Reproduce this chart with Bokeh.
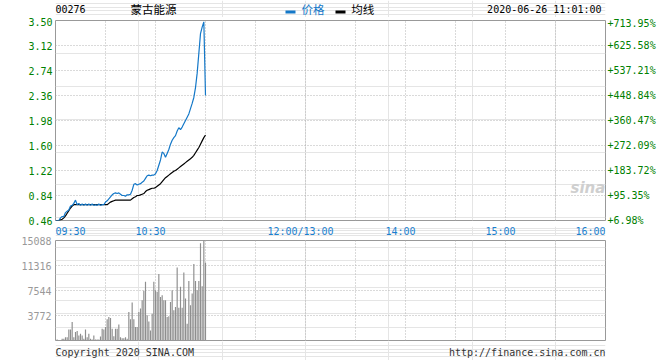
from bokeh.plotting import figure
from bokeh.models import Range1d, FixedTicker, LinearAxis, Grid
from bokeh.layouts import column
from bokeh.core.properties import value
from bokeh.embed import file_html
from bokeh.resources import INLINE

# ---------------- data ----------------
stock_code = "00276"
stock_name = "蒙古能源"
timestamp = "2020-06-26 11:01:00"
legend_price = "价格"
legend_avg = "均线"
copyright_text = "Copyright 2020 SINA.COM"
source_url = "http://finance.sina.com.cn"

# one value per trading minute starting at 09:30
price = [0.46, 0.46, 0.46, 0.50, 0.52, 0.52, 0.58, 0.60, 0.62, 0.68,
         0.69, 0.72, 0.77, 0.70, 0.72, 0.69, 0.71, 0.69, 0.71, 0.69,
         0.71, 0.69, 0.71, 0.69, 0.70, 0.69, 0.71, 0.69, 0.70, 0.70,
         0.74, 0.76, 0.79, 0.82, 0.85, 0.87, 0.88, 0.87, 0.88, 0.86,
         0.84, 0.84, 0.83, 0.85, 0.85, 0.86, 0.92, 1.01, 1.02, 1.00,
         1.01, 1.02, 1.04, 1.06, 1.10, 1.14, 1.15, 1.14, 1.15, 1.15,
         1.17, 1.22, 1.30, 1.38, 1.50, 1.48, 1.42, 1.48, 1.54, 1.62,
         1.68, 1.72, 1.75, 1.82, 1.87, 1.84, 1.88, 1.93, 1.98, 2.03,
         2.08, 2.16, 2.24, 2.33, 2.48, 2.70, 3.00, 3.30, 3.40, 3.48,
         2.36]

avg_price = [0.46, 0.46, 0.46, 0.47, 0.48, 0.50, 0.53, 0.57, 0.61, 0.65,
             0.68, 0.70, 0.70, 0.70, 0.70, 0.70, 0.70, 0.70, 0.70, 0.70,
             0.70, 0.70, 0.70, 0.70, 0.70, 0.70, 0.70, 0.70, 0.70, 0.70,
             0.70, 0.70, 0.72, 0.74, 0.75, 0.76, 0.77, 0.77, 0.77, 0.77,
             0.77, 0.77, 0.77, 0.77, 0.77, 0.77, 0.79, 0.81, 0.82, 0.84,
             0.84, 0.85, 0.86, 0.87, 0.90, 0.92, 0.93, 0.94, 0.95, 0.95,
             0.96, 0.98, 1.00, 1.02, 1.05, 1.08, 1.11, 1.13, 1.15, 1.17,
             1.19, 1.21, 1.22, 1.24, 1.26, 1.28, 1.30, 1.32, 1.34, 1.36,
             1.38, 1.40, 1.42, 1.45, 1.49, 1.53, 1.57, 1.62, 1.67, 1.72,
             1.76]

volume = [150, 150, 0, 0, 250, 250, 500, 500, 1670, 1670,
          2780, 500, 1270, 1420, 760, 1010, 760, 250, 1670, 500,
          1010, 250, 150, 760, 150, 150, 150, 600, 1770, 1670,
          2020, 3190, 3540, 3390, 1770, 660, 1770, 1770, 2430, 500,
          350, 350, 500, 250, 4300, 3190, 5720, 3190, 2020, 2020,
          4300, 4810, 6070, 7490, 8860, 3800, 2880, 1520, 4050, 8860,
          7590, 7340, 10020, 6580, 6830, 6070, 6070, 3540, 3640, 5820,
          7590, 4550, 5060, 11030, 4960, 8100, 4960, 10270, 6320, 2530,
          8960, 5310, 7080, 11540, 8960, 7590, 8960, 14680, 8200, 15088,
          11740]

price_ticks = [0.46, 0.84, 1.22, 1.60, 1.98, 2.36, 2.74, 3.12, 3.50]
price_tick_labels = ["0.46", "0.84", "1.22", "1.60", "1.98", "2.36", "2.74", "3.12", "3.50"]
pct_tick_labels = ["+6.98%", "+95.35%", "+183.72%", "+272.09%", "+360.47%",
                   "+448.84%", "+537.21%", "+625.58%", "+713.95%"]
volume_ticks = [3772, 7544, 11316, 15088]
volume_tick_labels = ["3772", "7544", "11316", "15088"]
# trading minutes since 09:30 (lunch break collapsed)
time_ticks = [0, 60, 150, 210, 270, 330]
time_tick_labels = ["09:30", "10:30", "12:00/13:00", "14:00", "15:00", "16:00"]
grid_minutes = [0, 30, 60, 90, 120, 150, 180, 210, 240, 270, 300, 330]

# ---------------- style ----------------
MONO = "DejaVu Sans Mono"
CJK = "Noto Sans CJK SC"
BLUE = "#1478c8"
LBLUE = "#1a7fd0"
GREEN = "#008000"
GRAY = "#999999"
GRID = "#b4b4b4"
W = 660
LB, RB = 55, 55

minutes_p = list(range(len(price)))
minutes_a = list(range(len(avg_price)))
minutes_v = list(range(len(volume)))

x_range = Range1d(0, time_ticks[-1])


def strip(height):
    """A frame-only figure used for text rows (header, time labels, footer)."""
    f = figure(width=W, height=height, x_range=x_range, y_range=Range1d(0, 1),
               output_backend="svg", toolbar_location=None,
               x_axis_location=None, y_axis_location=None,
               min_border_left=LB, min_border_right=RB, min_border_top=0, min_border_bottom=0)
    f.outline_line_color = None
    f.background_fill_color = "white"
    f.border_fill_color = "white"
    return f


def style_axis(ax, color, standoff, size="10px"):
    ax.axis_line_color = None
    ax.major_tick_line_color = None
    ax.minor_tick_line_color = None
    ax.major_tick_out = 0
    ax.major_tick_in = 0
    ax.major_label_standoff = standoff
    ax.major_label_text_font = MONO
    ax.major_label_text_font_size = size
    ax.major_label_text_color = color


# ---------------- header row ----------------
h = strip(17)
h.text(x=[0], y=[0.5], text=[stock_code], text_font=value(MONO), text_font_size="10px",
       text_color="black", text_baseline="middle", text_align="left")
h.text(x=[45], y=[0.5], text=[stock_name], text_font=value(CJK), text_font_size="11.5px",
       text_color="black", text_baseline="middle", text_align="left")
h.rect(x=[141, 171], y=[0.33, 0.33], width=10, height=3, width_units="screen", height_units="screen",
       fill_color=[BLUE, "black"], line_color=None)
h.text(x=[147.6], y=[0.5], text=[legend_price], text_font=value(CJK), text_font_size="11.5px",
       text_color=BLUE, text_baseline="middle", text_align="left")
h.text(x=[177.4], y=[0.5], text=[legend_avg], text_font=value(CJK), text_font_size="11.5px",
       text_color="black", text_baseline="middle", text_align="left")
h.text(x=[327.6], y=[0.5], text=[timestamp], text_font=value(MONO), text_font_size="10px",
       text_color="black", text_baseline="middle", text_align="right")

# ---------------- price panel ----------------
p = figure(width=W, height=208, x_range=x_range, y_range=Range1d(price_ticks[0], price_ticks[-1]),
           output_backend="svg", toolbar_location=None,
           x_axis_location=None, y_axis_location=None,
           min_border_left=LB, min_border_right=RB, min_border_top=3, min_border_bottom=5)
p.background_fill_color = "white"
p.border_fill_color = "white"
p.outline_line_color = GRAY
p.outline_line_width = 1
p.add_layout(Grid(dimension=0, ticker=FixedTicker(ticks=grid_minutes),
                  grid_line_color=GRID, grid_line_dash="1 2", grid_line_width=1))
p.add_layout(Grid(dimension=1, ticker=FixedTicker(ticks=price_ticks),
                  grid_line_color=GRID, grid_line_dash="1 2", grid_line_width=1))
ax_l = LinearAxis(ticker=FixedTicker(ticks=price_ticks),
                  major_label_overrides=dict(zip(price_ticks, price_tick_labels)))
ax_r = LinearAxis(ticker=FixedTicker(ticks=price_ticks),
                  major_label_overrides=dict(zip(price_ticks, pct_tick_labels)))
style_axis(ax_l, GREEN, 3)
style_axis(ax_r, GREEN, 2)
p.add_layout(ax_l, "left")
p.add_layout(ax_r, "right")

p.text(x=[309], y=[0.95], text=["sina"], text_font=value("DejaVu Sans"), text_font_style="bold italic",
       text_font_size="15px", text_color="#cfcfcf", text_baseline="middle", text_align="left")
p.line(minutes_a, avg_price, line_color="black", line_width=1.2)
p.line(minutes_p, price, line_color=BLUE, line_width=1.2)

# ---------------- time label row ----------------
t = strip(11)
for i, (tk, lab) in enumerate(zip(time_ticks, time_tick_labels)):
    if i == 0:
        align, off = "left", 0
    elif i == len(time_ticks) - 1:
        align, off = "right", 0
    else:
        align, off = "center", -5
    t.text(x=[tk], y=[0.55], text=[lab], x_offset=off, text_font=value(MONO), text_font_size="10px",
           text_color=LBLUE, text_baseline="middle", text_align=align)

# ---------------- volume panel ----------------
vmax = volume_ticks[-1]
v = figure(width=W, height=105, x_range=x_range, y_range=Range1d(0, vmax),
           output_backend="svg", toolbar_location=None,
           x_axis_location=None, y_axis_location=None,
           min_border_left=LB, min_border_right=RB, min_border_top=4, min_border_bottom=1)
v.background_fill_color = "white"
v.border_fill_color = "white"
v.outline_line_color = GRAY
v.outline_line_width = 1
v.add_layout(Grid(dimension=0, ticker=FixedTicker(ticks=grid_minutes),
                  grid_line_color=GRID, grid_line_dash="1 2", grid_line_width=1))
v.add_layout(Grid(dimension=1, ticker=FixedTicker(ticks=volume_ticks),
                  grid_line_color=GRID, grid_line_dash="1 2", grid_line_width=1))
vax = LinearAxis(ticker=FixedTicker(ticks=volume_ticks),
                 major_label_overrides=dict(zip(volume_ticks, volume_tick_labels)))
style_axis(vax, GRAY, 4)
v.add_layout(vax, "left")
v.vbar(x=minutes_v, top=volume, width=0.7, fill_color="#8e8e8e", line_color=None)

# ---------------- footer row ----------------
f = strip(19)
f.text(x=[0], y=[0.42], text=[copyright_text], text_font=value(MONO), text_font_size="10px",
       text_color="#333333", text_baseline="alphabetic", text_align="left")
f.text(x=[time_ticks[-1]], y=[0.42], text=[source_url], text_font=value(MONO), text_font_size="10px",
       text_color="#333333", text_baseline="alphabetic", text_align="right")

layout = column(h, p, t, v, f, spacing=0)
open("out.html", "w").write(file_html(layout, INLINE))
